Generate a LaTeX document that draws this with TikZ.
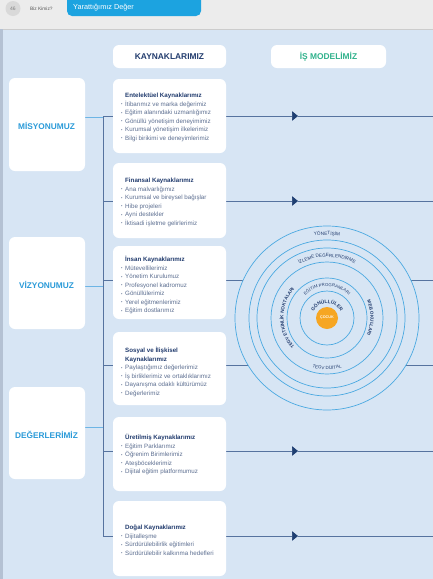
\documentclass[tikz,border=0pt]{standalone}
\usepackage{fontspec}
\setmainfont{Liberation Sans}
\usetikzlibrary{arrows.meta,decorations.text}

\definecolor{panel}{HTML}{D7E5F4}
\definecolor{topgray}{HTML}{ECECEC}
\definecolor{edgegray}{HTML}{B4C1D3}
\definecolor{tabblue}{HTML}{1CA3E0}
\definecolor{navy}{HTML}{223C6E}
\definecolor{itemgray}{HTML}{5D6F91}
\definecolor{sky}{HTML}{2B9BD9}
\definecolor{teal}{HTML}{30B28C}
\definecolor{linkc}{HTML}{56739F}
\definecolor{stubc}{HTML}{6DB5E5}
\definecolor{arrowc}{HTML}{1F3F72}
\definecolor{ringc}{HTML}{4BA9E1}
\definecolor{sun}{HTML}{F6A623}

\newcommand\bul{\makebox[0pt][r]{\fontsize{4}{4}\selectfont\raisebox{0.5pt}{•}\hspace{2.6pt}}}
\newcommand\ttl[1]{{\bfseries\color{navy}#1}}

\begin{document}
\begin{tikzpicture}[x=1pt,y=-1pt,
  card/.style={fill=white, rounded corners=6pt},
  head/.style={font=\fontsize{8.4}{9}\selectfont\bfseries, inner sep=0pt},
  side/.style={font=\fontsize{8.3}{9}\selectfont\bfseries, text=sky, inner sep=0pt},
  list/.style={anchor=north west, inner sep=0pt, align=left,
    font=\fontsize{6.2}{8.5}\selectfont, text=itemgray},
  link/.style={draw=linkc, line width=0.6pt},
  stub/.style={draw=stubc, line width=0.6pt},
  tip/.style={-{Triangle[length=6pt,width=9.5pt,color=arrowc,fill=arrowc]}},
  ring/.style={draw=ringc, line width=0.7pt},
  arctext/.style={decorate, decoration={text along path, text align=center, text={#1}}}
]
\useasboundingbox (0,0) rectangle (433,579);

% page background, header strip and left edge
\fill[topgray] (0,0) rectangle (433,29);
\fill[panel] (0,29) rectangle (433,579);
\draw[gray!40, line width=0.8pt] (0,29) -- (433,29);
\fill[edgegray] (0,29) rectangle (2.5,579);

% page number, running title and section tab
\fill[gray!30] (13,8.5) circle (7.5);
\node[font=\fontsize{5}{6}\selectfont, text=gray, inner sep=0pt] (pageno) at (13,8.5) {46};
\node[font=\fontsize{4.8}{6}\selectfont, text=black!65, anchor=west, inner sep=0pt] (crumb) at (30,8.5) {Biz Kimiz?};
\fill[tabblue, rounded corners=5pt] (67,-8) rectangle (201,16);
\node[font=\fontsize{7.3}{9}\selectfont, text=white, anchor=west, inner sep=0pt] (tab) at (73,7.5) {Yarattığımız Değer};

% column headers
\fill[card] (113,45) rectangle (226,68);
\node[head, text=navy] (hk) at (169.5,56.5) {KAYNAKLARIMIZ};
\fill[card] (271,45) rectangle (386,68);
\node[head, text=teal] (hm) at (328.5,56.5) {İŞ MODELİMİZ};

% trunk, branches and arrows towards the business model
\coordinate (tTop) at (103,116);
\coordinate (tBot) at (103,536);
\foreach \n/\y in {1/116,2/201,3/280,4/365,5/451,6/536}{
  \coordinate (s\n) at (103,\y);
  \coordinate (a\n) at (298,\y);
  \coordinate (e\n) at (433,\y);
}
\draw[link] (tTop) -- (tBot);
\foreach \n in {1,2,5,6}{
  \draw[link, tip] (s\n) -- (a\n);
  \draw[link] (a\n) -- (e\n);
}
\foreach \n in {3,4}{ \draw[link] (s\n) -- (e\n); }

% left column cards
\coordinate (m1) at (85,117);
\coordinate (m2) at (85,286);
\coordinate (m3) at (85,427);
\coordinate (j1) at (103,117);
\coordinate (j2) at (103,286);
\coordinate (j3) at (103,427);
\draw[stub] (m1) -- (j1);
\draw[stub] (m2) -- (j2);
\draw[stub] (m3) -- (j3);
\fill[card] (9,78) rectangle (85,171);
\node[side] (mis) at (46.5,126) {MİSYONUMUZ};
\fill[card] (9,237) rectangle (85,329);
\node[side] (viz) at (46.5,285) {VİZYONUMUZ};
\fill[card] (9,387) rectangle (85,479);
\node[side] (deg) at (46.5,435) {DEĞERLERİMİZ};

% resource cards
\fill[card] (113,79) rectangle (226,153);
\node[list] (c1) at (125,93) {\ttl{Entelektüel Kaynaklarımız}\\
  \bul İtibarımız ve marka değerimiz\\
  \bul Eğitim alanındaki uzmanlığımız\\
  \bul Gönüllü yönetişim deneyimimiz\\
  \bul Kurumsal yönetişim ilkelerimiz\\
  \bul Bilgi birikimi ve deneyimlerimiz};

\fill[card] (113,163) rectangle (226,238);
\node[list] (c2) at (125,178) {\ttl{Finansal Kaynaklarımız}\\
  \bul Ana malvarlığımız\\
  \bul Kurumsal ve bireysel bağışlar\\
  \bul Hibe projeleri\\
  \bul Ayni destekler\\
  \bul İktisadi işletme gelirlerimiz};

\fill[card] (113,246) rectangle (226,319);
\node[list] (c3) at (125,256) {\ttl{İnsan Kaynaklarımız}\\
  \bul Mütevellilerimiz\\
  \bul Yönetim Kurulumuz\\
  \bul Profesyonel kadromuz\\
  \bul Gönüllülerimiz\\
  \bul Yerel eğitmenlerimiz\\
  \bul Eğitim dostlarımız};

\fill[card] (113,332) rectangle (226,405);
\node[list] (c4) at (125,347) {\ttl{Sosyal ve İlişkisel}\\
  \ttl{Kaynaklarımız}\\
  \bul Paylaştığımız değerlerimiz\\
  \bul İş birliklerimiz ve ortaklıklarımız\\
  \bul Dayanışma odaklı kültürümüz\\
  \bul Değerlerimiz};

\fill[card] (113,417) rectangle (226,491);
\node[list] (c5) at (125,434) {\ttl{Üretilmiş Kaynaklarımız}\\
  \bul Eğitim Parklarımız\\
  \bul Öğrenim Birimlerimiz\\
  \bul Ateşböceklerimiz\\
  \bul Dijital eğitim platformumuz};

\fill[card] (113,501) rectangle (226,576);
\node[list] (c6) at (125,525) {\ttl{Doğal Kaynaklarımız}\\
  \bul Dijitalleşme\\
  \bul Sürdürülebilirlik eğitimleri\\
  \bul Sürdürülebilir kalkınma hedefleri};

% business model: concentric rings around the child
\begin{scope}[shift={(327,318)}, y=1pt]
  \fill[panel] (0,0) circle (92);
  \foreach \r in {92,78,70,56,40,27}{ \draw[ring] (0,0) circle (\r); }
  \fill[sun] (0,0) circle (11);
  \node[font=\fontsize{3.8}{4}\selectfont\bfseries, text=white!90!sun, inner sep=0pt] (child) at (0,0) {ÇOCUK};
  \path[arctext={|\fontsize{4.8}{5}\selectfont\bfseries\color{navy}|GÖNÜLLÜLER}]
    (170:14.8) arc[start angle=170, end angle=10, radius=14.8];
  \path[arctext={|\fontsize{4.3}{5}\selectfont\color{navy}|EĞİTİM PROGRAMLARI}]
    (170:31.5) arc[start angle=170, end angle=10, radius=31.5];
  \path[arctext={|\fontsize{4.6}{5}\selectfont\bfseries\color{navy}|TEGV ETKİNLİK NOKTALARI}]
    (260:43.5) arc[start angle=260, end angle=100, radius=43.5];
  \path[arctext={|\fontsize{4.6}{5}\selectfont\bfseries\color{navy}|MEB OKULLARI}]
    (65:43.5) arc[start angle=65, end angle=-65, radius=43.5];
  \path[arctext={|\fontsize{4.5}{5}\selectfont\color{navy}|TEGV DİJİTAL}]
    (230:51.5) arc[start angle=230, end angle=310, radius=51.5];
  \path[arctext={|\fontsize{4.6}{5}\selectfont\color{navy}|İZLEME DEĞERLENDİRME}]
    (150:61) arc[start angle=150, end angle=30, radius=61];
  \path[arctext={|\fontsize{4.7}{5}\selectfont\color{navy}|YÖNETİŞİM}]
    (130:83) arc[start angle=130, end angle=50, radius=83];
\end{scope}
\end{tikzpicture}
\end{document}
